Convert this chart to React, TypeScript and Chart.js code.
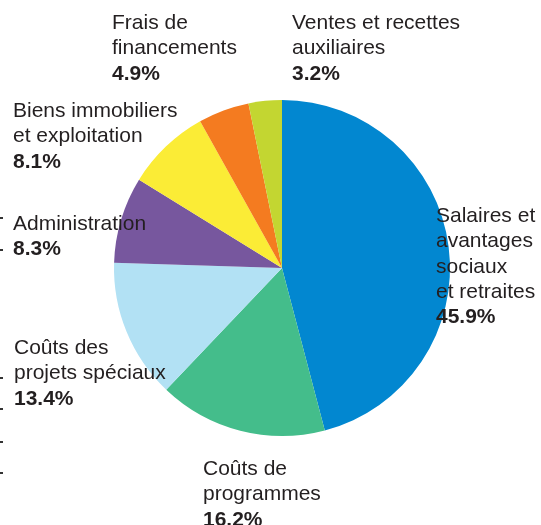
import React, { useEffect, useRef } from "react";
import { Chart, registerables } from "chart.js";

Chart.register(...registerables);

const categories: string[][] = [
  ["Salaires et", "avantages", "sociaux", "et retraites"],
  ["Coûts de", "programmes"],
  ["Coûts des", "projets spéciaux"],
  ["Administration"],
  ["Biens immobiliers", "et exploitation"],
  ["Frais de", "financements"],
  ["Ventes et recettes", "auxiliaires"],
];
const values: number[] = [45.9, 16.2, 13.4, 8.3, 8.1, 4.9, 3.2];
const percentLabels: string[] = ["45.9%", "16.2%", "13.4%", "8.3%", "8.1%", "4.9%", "3.2%"];
const colors: string[] = ["#0287d0", "#44bd8b", "#b2e1f4", "#77579e", "#fbec36", "#f47b20", "#c3d631"];

// label layout: left x and first baseline y, per slice
const labelLayout: { x: number; y: number }[] = [
  { x: 436, y: 222 },
  { x: 203, y: 475 },
  { x: 14, y: 354 },
  { x: 13, y: 230 },
  { x: 13, y: 117 },
  { x: 112, y: 29 },
  { x: 292, y: 29 },
];
const LINE = 25.3;
const edgeMarks: number[] = [218, 250, 378, 409, 442, 473];

const labelPlugin = {
  id: "outerLabels",
  afterDatasetsDraw(chart: any) {
    const ctx = chart.ctx;
    ctx.save();
    ctx.fillStyle = "#231f20";
    ctx.textAlign = "left";
    ctx.textBaseline = "alphabetic";
    categories.forEach((lines, i) => {
      const p = labelLayout[i];
      ctx.font = "21px 'Liberation Sans', Arial, sans-serif";
      lines.forEach((t, j) => ctx.fillText(t, p.x, p.y + j * LINE));
      ctx.font = "bold 21px 'Liberation Sans', Arial, sans-serif";
      ctx.fillText(percentLabels[i], p.x, p.y + lines.length * LINE);
    });
    ctx.fillStyle = "#333";
    edgeMarks.forEach((y) => ctx.fillRect(0, y - 1, 3, 2));
    ctx.restore();
  },
};

export default function App() {
  const ref = useRef<HTMLCanvasElement>(null);
  useEffect(() => {
    document.body.style.margin = "0";
    const chart = new Chart(ref.current!, {
      type: "pie",
      data: {
        labels: categories.map((c) => c.join(" ")),
        datasets: [
          {
            data: values,
            backgroundColor: colors,
            borderWidth: 0,
          },
        ],
      },
      options: {
        responsive: false,
        animation: false,
        layout: { padding: { left: 114, right: 91, top: 100, bottom: 89 } },
        plugins: { legend: { display: false }, tooltip: { enabled: false } },
      },
      plugins: [labelPlugin],
    });
    return () => chart.destroy();
  }, []);
  return (
    <div style={{ width: 541, height: 525, background: "#fff" }}>
      <canvas ref={ref} width={541} height={525} style={{ display: "block" }} />
    </div>
  );
}
